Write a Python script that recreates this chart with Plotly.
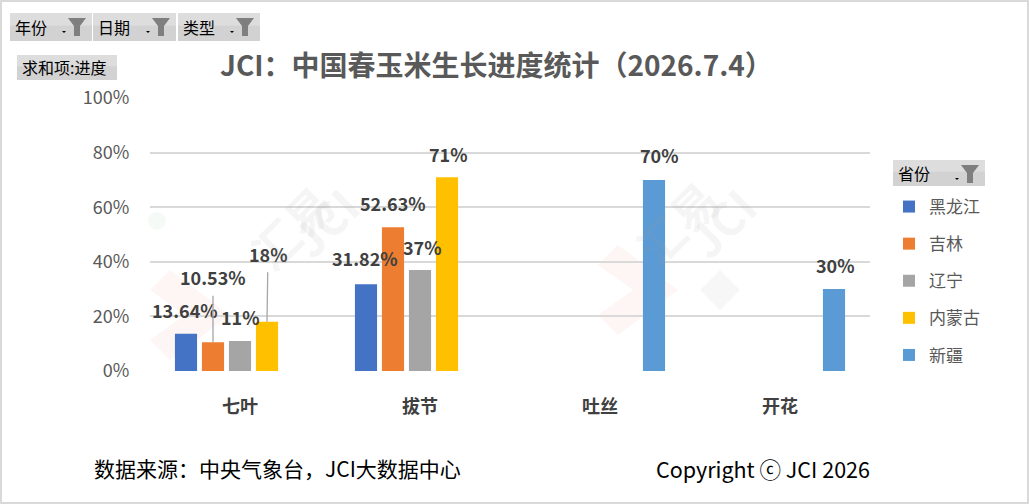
import plotly.graph_objects as go

# ---------------- data ----------------
categories = ["七叶", "拔节", "吐丝", "开花"]
provinces = ["黑龙江", "吉林", "辽宁", "内蒙古", "新疆"]
hlj = [0.1364, 0.3182, None, None]
jl = [0.1053, 0.5263, None, None]
ln = [0.11, 0.37, None, None]
nmg = [0.18, 0.71, None, None]
xj = [None, None, 0.70, 0.30]
label_hlj = ["13.64%", "31.82%", None, None]
label_jl = ["10.53%", "52.63%", None, None]
label_ln = ["11%", "37%", None, None]
label_nmg = ["18%", "71%", None, None]
label_xj = [None, None, "70%", "30%"]
yticks = [0, 0.2, 0.4, 0.6, 0.8, 1.0]
ytick_text = ["0%", "20%", "40%", "60%", "80%", "100%"]

title_text = "JCI：中国春玉米生长进度统计（2026.7.4）"
source_text = "数据来源：中央气象台，JCI大数据中心"
copyright_text = "Copyright ⓒ JCI 2026"
filter_names = ["年份", "日期", "类型"]
value_field = "求和项:进度"
legend_field = "省份"

series = [hlj, jl, ln, nmg, xj]
series_labels = [label_hlj, label_jl, label_ln, label_nmg, label_xj]
colors = ["#4472C4", "#ED7D31", "#A5A5A5", "#FFC000", "#5B9BD5"]

# ---------------- geometry helpers (pixels -> paper) ----------------
W, H = 1029, 504
L, R, T, B = 150, 870, 98, 371
PW, PH = R - L, B - T


def px(x):
    return (x - L) / PW


def py(y):
    return (B - y) / PH


CJK = "Noto Sans CJK SC"
fig = go.Figure()

for name, vals, col in zip(provinces, series, colors):
    fig.add_trace(go.Bar(
        x=categories, y=vals, name=name, marker=dict(color=col, line=dict(width=0)),
        legendgroup=name, hoverinfo="skip",
    ))

# ---------------- data labels ----------------
slot = 27  # pixel offset between series in a group
# per-series per-category (dx, dy, leader) label placement offsets
place = {
    0: {0: (-1, 24, False), 1: (-1, 26, False)},
    1: {0: (0, 65, True), 1: (0, 24, False)},
    2: {0: (0, 24, False), 1: (2, 23, False)},
    3: {0: (1, 68, True), 1: (1, 23, False)},
    4: {2: (5, 25, False), 3: (1, 24, False)},
}
LABEL_FONT = dict(family=CJK, size=18, color="#404040", weight="bold")
annotations = []
for si, (vals, labs) in enumerate(zip(series, series_labels)):
    for ci, (v, lab) in enumerate(zip(vals, labs)):
        if v is None or lab is None:
            continue
        dx, dy, leader = place[si][ci]
        xs = (si - 2) * slot
        if leader:
            annotations.append(dict(
                x=categories[ci], y=v, xref="x", yref="y", text=lab,
                showarrow=True, arrowhead=0, arrowwidth=1.3, arrowcolor="#A6A6A6",
                ax=dx, ay=-dy, xshift=xs, borderpad=5, font=LABEL_FONT,
            ))
        else:
            annotations.append(dict(
                x=categories[ci], y=v, xref="x", yref="y", text=lab,
                showarrow=False, xshift=xs + dx, yshift=dy,
                xanchor="center", yanchor="middle", font=LABEL_FONT,
            ))

# ---------------- title & footer ----------------
annotations.append(dict(
    x=px(496), y=py(64), xref="paper", yref="paper", text=title_text, showarrow=False,
    xanchor="center", yanchor="middle",
    font=dict(family=CJK, size=28, color="#595959", weight="bold"),
))
annotations.append(dict(
    x=px(92), y=py(468), xref="paper", yref="paper", text=source_text, showarrow=False,
    xanchor="left", yanchor="middle",
    font=dict(family=CJK, size=21, color="#000000"),
))
annotations.append(dict(
    x=px(872), y=py(468), xref="paper", yref="paper", text=copyright_text, showarrow=False,
    xanchor="right", yanchor="middle",
    font=dict(family=CJK, size=21.5, color="#000000"),
))

# ---------------- watermarks ----------------
for (wx, wy), (jx, jy) in [((232, 168), (272, 222)), ((735, 163), (772, 222))]:
    annotations.append(dict(
        x=px(wx), y=py(wy), xref="paper", yref="paper", text="汇易", showarrow=False,
        textangle=-45, font=dict(family=CJK, size=46, color="rgba(150,150,150,0.10)", weight="bold"),
    ))
    annotations.append(dict(
        x=px(jx), y=py(jy), xref="paper", yref="paper", text="JCI", showarrow=False,
        textangle=-45, font=dict(family=CJK, size=46, color="rgba(150,150,150,0.10)", weight="bold"),
    ))

shapes = []


def path_px(points):
    s = "M " + " L ".join(f"{px(a):.5f},{py(b):.5f}" for a, b in points) + " Z"
    return s


# faint logo chevrons
for ox, oy in [(150, 270), (598, 245)]:
    shapes.append(dict(type="path", xref="paper", yref="paper",
                       path=path_px([(ox, oy + 20), (ox + 20, oy), (ox + 80, oy + 45), (ox + 20, oy + 90), (ox, oy + 70), (ox + 35, oy + 45)]),
                       fillcolor="rgba(230,60,60,0.05)", line=dict(width=0), layer="below"))
shapes.append(dict(type="path", xref="paper", yref="paper",
                   path=path_px([(700, 290), (720, 270), (740, 290), (720, 310)]),
                   fillcolor="rgba(150,150,150,0.08)", line=dict(width=0), layer="below"))
shapes.append(dict(type="circle", xref="paper", yref="paper",
                   x0=px(148), x1=px(166), y0=py(212), y1=py(230),
                   fillcolor="rgba(60,160,80,0.05)", line=dict(width=0), layer="below"))

# ---------------- pivot filter buttons ----------------


def button(x0, y0, x1, y1, label, funnel=True):
    shapes.append(dict(type="rect", xref="paper", yref="paper",
                       x0=px(x0), x1=px(x1), y0=py(y1), y1=py(y0),
                       fillcolor="#D2D2D2", line=dict(width=0), layer="above"))
    shapes.append(dict(type="rect", xref="paper", yref="paper",
                       x0=px(x0), x1=px(x1), y0=py(y0 + (y1 - y0) * 0.45), y1=py(y0),
                       fillcolor="#DDDDDD", line=dict(width=0), layer="above"))
    annotations.append(dict(
        x=px(x0 + 3), y=py((y0 + y1) / 2), xref="paper", yref="paper", text=label,
        showarrow=False, xanchor="left", yanchor="middle",
        font=dict(family=CJK, size=16, color="#000000"),
    ))
    if funnel:
        fx = x1 - 30
        fy = y0 + 5
        shapes.append(dict(type="path", xref="paper", yref="paper",
                           path=path_px([(fx, fy + 13), (fx + 4, fy + 13), (fx + 2, fy + 15)]),
                           fillcolor="#000000", line=dict(width=0), layer="above"))
        gx = fx + 6
        shapes.append(dict(type="path", xref="paper", yref="paper",
                           path=path_px([(gx, fy), (gx + 18, fy), (gx + 12, fy + 8), (gx + 12, fy + 18),
                                         (gx + 6, fy + 18), (gx + 6, fy + 8)]),
                           fillcolor="#7F7F7F", line=dict(width=0), layer="above"))


button(10, 13, 92, 41, filter_names[0])
button(93, 13, 176, 41, filter_names[1])
button(178, 13, 260, 41, filter_names[2])
button(17, 55, 117, 80, value_field, funnel=False)
button(893, 160, 985, 186, legend_field)

# outer frame
shapes.append(dict(type="rect", xref="paper", yref="paper",
                   x0=px(1), x1=px(W - 1), y0=py(H - 1), y1=py(1),
                   line=dict(color="#D9D9D9", width=2), fillcolor="rgba(0,0,0,0)", layer="above"))

fig.update_layout(
    width=W, height=H,
    margin=dict(l=L, r=W - R, t=T, b=H - B, pad=0),
    paper_bgcolor="white", plot_bgcolor="white",
    barmode="group", bargap=0.25, bargroupgap=0.18,
    showlegend=True,
    legend=dict(
        x=px(889), y=py(189), xanchor="left", yanchor="top",
        font=dict(family=CJK, size=17, color="#595959"),
        tracegroupgap=12, bgcolor="rgba(0,0,0,0)", itemclick=False,
    ),
    xaxis=dict(
        showgrid=False, showline=False, zeroline=False,
        ticks="outside", ticklen=19, tickcolor="rgba(0,0,0,0)",
        tickfont=dict(family=CJK, size=18, color="#404040", weight="bold"),
        fixedrange=True,
    ),
    yaxis=dict(
        range=[0, 1], tickvals=yticks, ticktext=ytick_text,
        showgrid=True, gridcolor="#D9D9D9", gridwidth=1.5,
        zeroline=False, showline=False,
        ticks="outside", ticklen=16, tickcolor="rgba(0,0,0,0)",
        tickfont=dict(family=CJK, size=18, color="#595959"),
        fixedrange=True,
    ),
    annotations=annotations,
    shapes=shapes,
)

fig.write_html("out.html", config={"displayModeBar": False},
               post_script="document.body.style.margin='0';document.body.style.padding='0';")
